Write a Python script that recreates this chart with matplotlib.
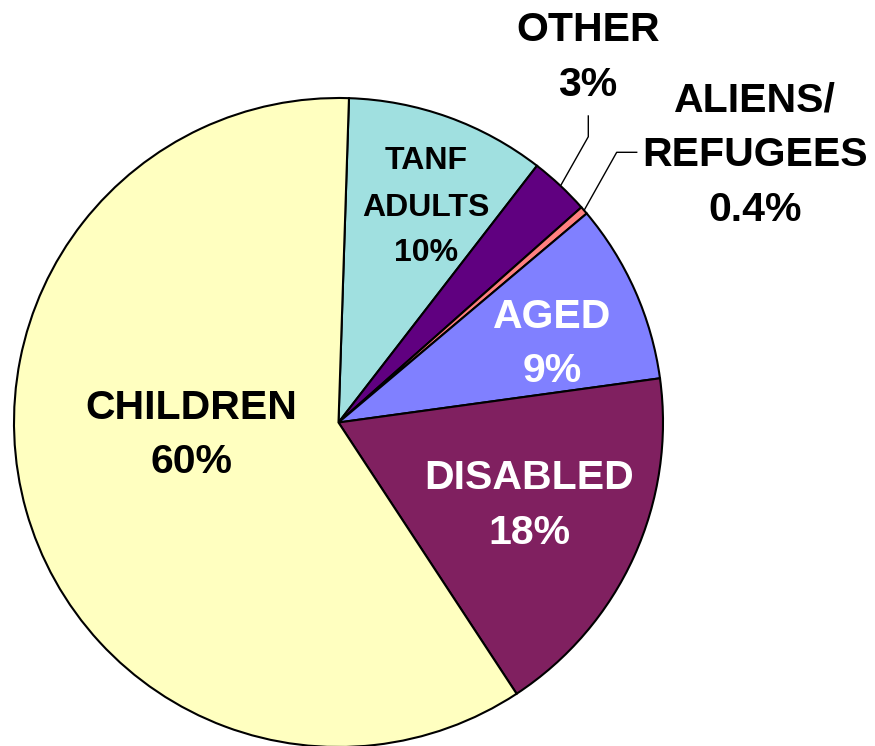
import matplotlib
matplotlib.use("Agg")
import matplotlib.pyplot as plt

# Data (clockwise from top)
categories = ["TANF ADULTS", "OTHER", "ALIENS/ REFUGEES", "AGED", "DISABLED", "CHILDREN"]
values = [10, 3, 0.4, 9, 18, 60]
pct_labels = ["10%", "3%", "0.4%", "9%", "18%", "60%"]
colors = ["#A0E0E0", "#600080", "#FF8080", "#8080FF", "#802060", "#FFFFC0"]

W, H = 875, 746
fig = plt.figure(figsize=(W / 100, H / 100), dpi=100)
ax = fig.add_axes([0, 0, 1, 1])

cx, cy, r = 338.5, H - 422.5, 324.5
ax.pie(values, colors=colors, startangle=88.15, counterclock=False,
       center=(cx, cy), radius=r,
       wedgeprops=dict(edgecolor="black", linewidth=1.5))
ax.set_xlim(0, W)
ax.set_ylim(0, H)
ax.set_aspect("equal")
ax.axis("off")

font = ["Liberation Sans", "DejaVu Sans"]

def put(lines, x, ys, size, color="black"):
    for line, y in zip(lines, ys):
        ax.text(x, H - y, line, ha="center", va="center", fontsize=size,
                fontweight="bold", family=font, color=color)

put(["TANF", "ADULTS", pct_labels[0]], 426, [161, 208, 253], 23)
put([categories[1], pct_labels[1]], 588, [30, 85], 29.5)
put(["ALIENS/", "REFUGEES", pct_labels[2]], 755, [100, 155, 210], 29.5)
put([categories[3], pct_labels[3]], 552, [317, 371], 29.5, color="white")
put([categories[4], pct_labels[4]], 529, [478, 533], 29.5, color="white")
put([categories[5], pct_labels[5]], 191, [408, 462], 29.5)

# leader lines
ax.plot([561, 588.3, 588.3], [H - 185, H - 136.7, H - 116], color="black", lw=1)
ax.plot([584.3, 616.7, 636.7], [H - 210, H - 152.3, H - 152.3], color="black", lw=1)

fig.savefig("out.png", dpi=100)
